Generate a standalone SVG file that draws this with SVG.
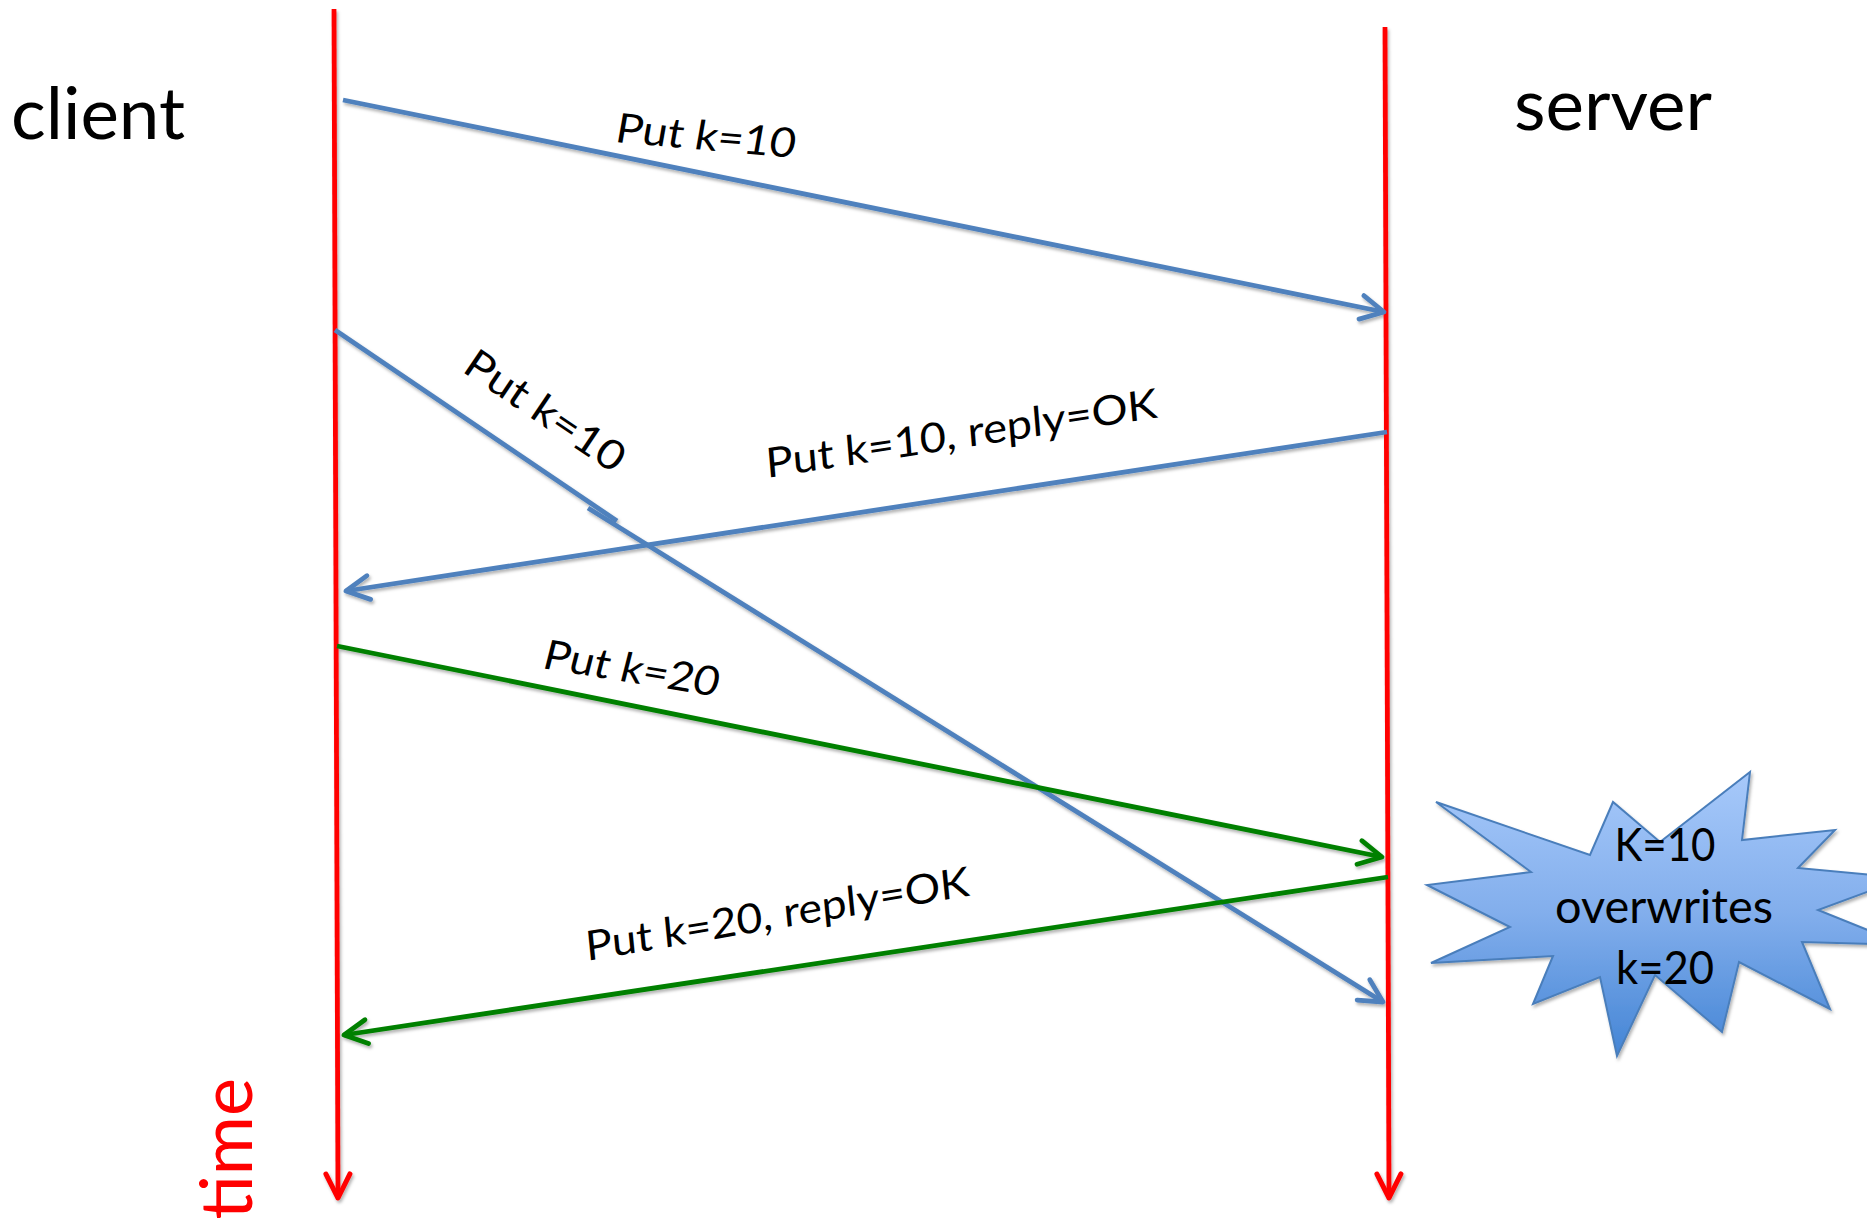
<svg xmlns="http://www.w3.org/2000/svg" width="1867" height="1218" viewBox="0 0 1867 1218">
  <style>
    .lbl { font-family: Lato, "Open Sans", "Liberation Sans", sans-serif; fill: #000; }
    .big { font-size: 72px; }
    .msg { font-size: 41px; }
    .burst-txt { font-size: 46px; text-anchor: middle; }
    .life { stroke: #FF0000; stroke-width: 4.8; fill: none; }
    .blue { stroke: #4F81BD; stroke-width: 4.8; fill: none; }
    .green { stroke: #008000; stroke-width: 4.8; fill: none; }
  </style>
  <defs>
    <filter id="shadow" x="-10%" y="-10%" width="120%" height="120%">
      <feDropShadow dx="1.5" dy="2.5" stdDeviation="1.8" flood-color="#000" flood-opacity="0.3"/>
    </filter>
    <linearGradient id="burstFill" x1="0" y1="0" x2="0" y2="1">
      <stop offset="0" stop-color="#A7C9FA"/>
      <stop offset="0.5" stop-color="#82AEEC"/>
      <stop offset="1" stop-color="#4485D5"/>
    </linearGradient>
    <marker id="ah-red" markerUnits="userSpaceOnUse" orient="auto" refX="0" refY="0" markerWidth="60" markerHeight="60" viewBox="-30 -30 60 60" overflow="visible">
      <path d="M-24,-12 L0,0 L-24,12" fill="none" stroke="#FF0000" stroke-width="5" stroke-linecap="round" stroke-linejoin="round"/>
    </marker>
    <marker id="ah-blue" markerUnits="userSpaceOnUse" orient="auto" refX="0" refY="0" markerWidth="60" markerHeight="60" viewBox="-30 -30 60 60" overflow="visible">
      <path d="M-23,-12 L0,0 L-23,12" fill="none" stroke="#4F81BD" stroke-width="4.8" stroke-linecap="round" stroke-linejoin="round"/>
    </marker>
    <marker id="ah-green" markerUnits="userSpaceOnUse" orient="auto" refX="0" refY="0" markerWidth="60" markerHeight="60" viewBox="-30 -30 60 60" overflow="visible">
      <path d="M-23,-12 L0,0 L-23,12" fill="none" stroke="#008000" stroke-width="4.8" stroke-linecap="round" stroke-linejoin="round"/>
    </marker>
  </defs>

  <rect width="1867" height="1218" fill="#FFFFFF"/>

  <!-- participant labels -->
  <g id="client">
    <text class="lbl big" x="11" y="139" textLength="174" lengthAdjust="spacingAndGlyphs">client</text>
  </g>
  <g id="server">
    <text class="lbl big" x="1514" y="130" textLength="198" lengthAdjust="spacingAndGlyphs">server</text>
  </g>
  <g id="time">
    <text class="lbl big" transform="translate(252,1078) rotate(-90)" x="0" y="0" text-anchor="end" style="fill:#FF0000">time</text>
  </g>

  <!-- lifelines and messages -->
  <g id="connectors" filter="url(#shadow)">
    <path id="client-lifeline" class="life" d="M334,9 L338,1198" marker-end="url(#ah-red)"/>
    <path id="server-lifeline" class="life" d="M1385,27 L1389,1198" marker-end="url(#ah-red)"/>

    <path id="put10-a" class="blue" d="M343,100 L1384,312" marker-end="url(#ah-blue)"/>
    <path id="put10-b" class="blue" d="M335,330 L617,521"/>
    <path id="put10-b2" class="blue" d="M588,508 L1383,1002" marker-end="url(#ah-blue)"/>
    <path id="reply10" class="blue" d="M1387,432 L346,591" marker-end="url(#ah-blue)"/>
    <path id="put20" class="green" d="M337,646 L1382,857" marker-end="url(#ah-green)"/>
    <path id="reply20" class="green" d="M1388,877 L344,1035" marker-end="url(#ah-green)"/>
  </g>

  <!-- message labels -->
  <g id="msg-labels">
    <text class="lbl msg" transform="translate(614,142) rotate(5) skewX(-5)" textLength="180" lengthAdjust="spacingAndGlyphs">Put k=10</text>
    <text class="lbl msg" transform="translate(461,371) rotate(34)" textLength="184" lengthAdjust="spacingAndGlyphs">Put k=10</text>
    <text class="lbl msg" transform="translate(767,478) rotate(-8.8) skewX(-4)" textLength="396" lengthAdjust="spacingAndGlyphs">Put k=10, reply=OK</text>
    <text class="lbl msg" transform="translate(541,668) rotate(9.3) skewX(-5)" textLength="177" lengthAdjust="spacingAndGlyphs">Put k=20</text>
    <text class="lbl msg" transform="translate(587,961) rotate(-9.7) skewX(-4)" textLength="389" lengthAdjust="spacingAndGlyphs">Put k=20, reply=OK</text>
  </g>

  <!-- explosion callout -->
  <g id="overwrite-burst">
    <path d="M1436,802 L1590,855 L1613,802 L1660,842 L1750,772 L1742,840 L1835,830 L1798,868 L1905,878 L1818,910 L1905,945 L1802,942 L1830,1009 L1739,962 L1722,1032 L1655,975 L1617,1056 L1600,977 L1533,1004 L1553,956 L1431,963 L1510,927 L1427,885 L1531,872 Z" fill="url(#burstFill)" stroke="#4A7EBB" stroke-width="2" stroke-linejoin="miter" filter="url(#shadow)"/>
    <text class="lbl burst-txt" x="1665" y="861" textLength="101" lengthAdjust="spacingAndGlyphs">K=10</text>
    <text class="lbl burst-txt" x="1664" y="923" textLength="218" lengthAdjust="spacingAndGlyphs">overwrites</text>
    <text class="lbl burst-txt" x="1665" y="984" textLength="98" lengthAdjust="spacingAndGlyphs">k=20</text>
  </g>
</svg>
